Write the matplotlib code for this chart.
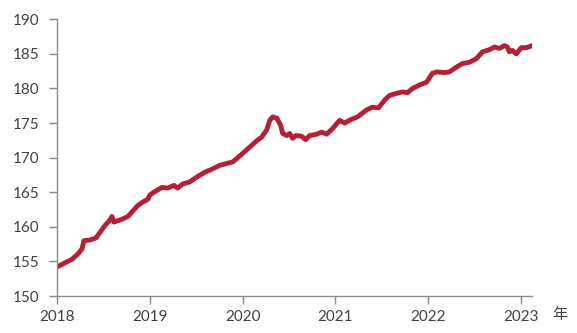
import matplotlib
matplotlib.use("Agg")
import matplotlib.pyplot as plt

# 年份(小数) 与 指数值
years = [2018.00, 2018.086, 2018.161, 2018.226, 2018.269, 2018.29, 2018.355, 2018.42,
         2018.463, 2018.517, 2018.571, 2018.592, 2018.614, 2018.70, 2018.764, 2018.797,
         2018.872, 2018.926, 2018.98, 2019.00, 2019.055, 2019.13, 2019.195, 2019.26,
         2019.30, 2019.356, 2019.43, 2019.507, 2019.593, 2019.68, 2019.755, 2019.84,
         2019.895, 2020.00, 2020.10, 2020.15, 2020.207, 2020.26, 2020.293, 2020.325,
         2020.37, 2020.41, 2020.433, 2020.476, 2020.508, 2020.54, 2020.573, 2020.637,
         2020.68, 2020.723, 2020.80, 2020.853, 2020.906, 2020.97, 2021.046, 2021.10,
         2021.165, 2021.24, 2021.337, 2021.40, 2021.466, 2021.53, 2021.585, 2021.66,
         2021.724, 2021.778, 2021.832, 2021.907, 2021.983, 2022.047, 2022.10, 2022.177,
         2022.23, 2022.306, 2022.37, 2022.446, 2022.52, 2022.586, 2022.66, 2022.715,
         2022.769, 2022.823, 2022.855, 2022.876, 2022.91, 2022.95, 2023.005, 2023.06,
         2023.124]
values = [154.2, 154.8, 155.3, 156.1, 156.8, 158.0, 158.1, 158.4,
          159.2, 160.2, 161.0, 161.5, 160.7, 161.1, 161.5, 162.0,
          163.1, 163.6, 164.0, 164.6, 165.1, 165.7, 165.6, 166.0,
          165.6, 166.2, 166.5, 167.2, 167.9, 168.4, 168.9, 169.2,
          169.4, 170.6, 171.8, 172.4, 173.0, 174.0, 175.4, 175.9,
          175.7, 174.7, 173.5, 173.2, 173.5, 172.8, 173.2, 173.1,
          172.6, 173.2, 173.4, 173.7, 173.4, 174.2, 175.4, 175.0,
          175.5, 175.9, 176.9, 177.3, 177.2, 178.3, 179.0, 179.3,
          179.5, 179.4, 180.0, 180.5, 180.9, 182.2, 182.4, 182.3,
          182.4, 183.1, 183.6, 183.8, 184.3, 185.3, 185.6, 186.0,
          185.8, 186.2, 186.0, 185.3, 185.5, 185.0, 185.9, 185.9,
          186.2]

x_ticks = [2018, 2019, 2020, 2021, 2022, 2023]
y_ticks = [150, 155, 160, 165, 170, 175, 180, 185, 190]

grey = "#8c8c8c"
text_c = "#404040"

fig = plt.figure(figsize=(5.77, 3.33), dpi=100)
ax = fig.add_axes([0.0988, 0.111, 0.824, 0.831])
ax.plot(years, values, color="#b52035", lw=3.5, solid_capstyle="round",
        solid_joinstyle="round")

ax.set_xlim(2018, 2023.125)
ax.set_ylim(150, 190)
ax.set_xticks(x_ticks)
ax.set_xticklabels([str(t) for t in x_ticks])
ax.set_yticks(y_ticks)

for s in ["top", "right"]:
    ax.spines[s].set_visible(False)
for s in ["left", "bottom"]:
    ax.spines[s].set_color(grey)
    ax.spines[s].set_linewidth(1.0)

ax.tick_params(axis="both", direction="out", length=6, width=1.0, color=grey,
               labelcolor=text_c, labelsize=11)
ax.tick_params(axis="y", pad=7)
ax.tick_params(axis="x", pad=4)
for lab in ax.get_xticklabels() + ax.get_yticklabels():
    lab.set_family("Lato")

fig.text(560 / 577, 1 - 315 / 333, "年", ha="center", va="center",
         fontsize=11, color=text_c, family=["Noto Sans CJK SC", "DejaVu Sans"])

fig.savefig("out.png", dpi=100)
